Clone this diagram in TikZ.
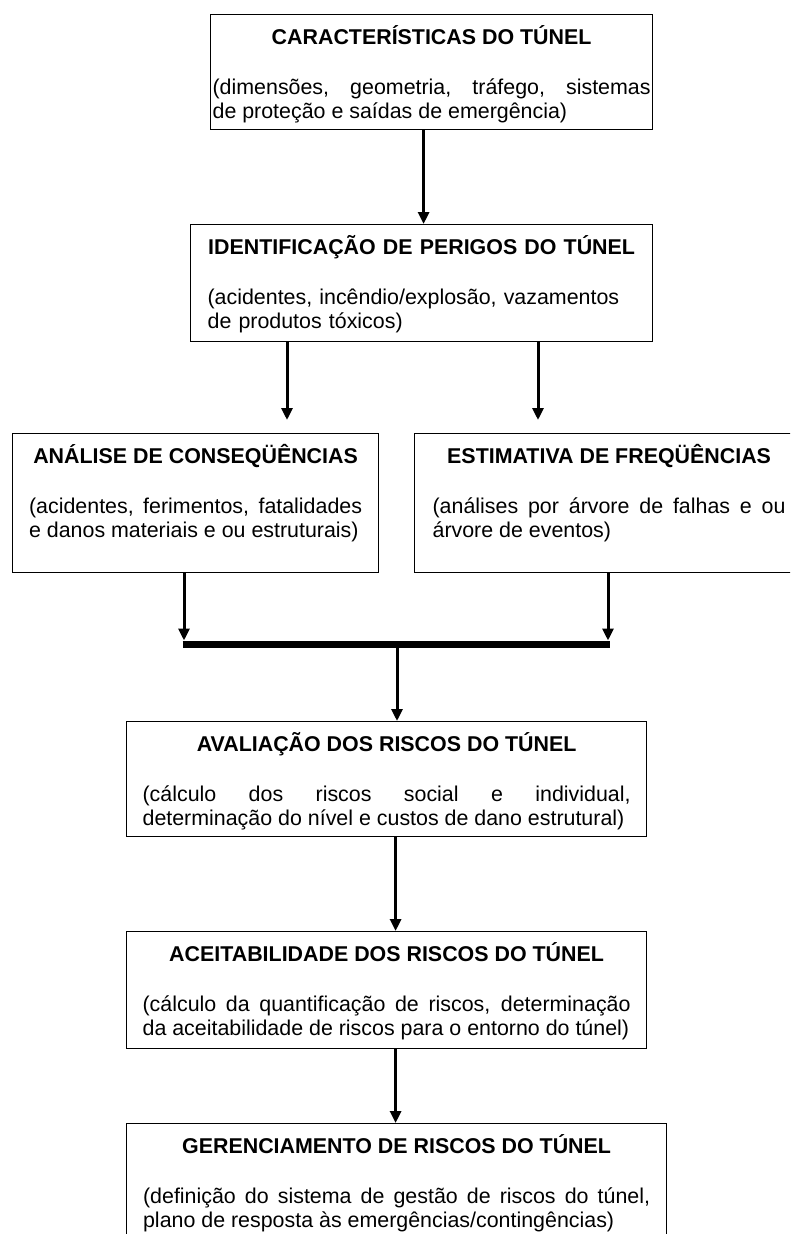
\documentclass[tikz,border=0pt]{standalone}
\usepackage{fontspec}
\setmainfont{Liberation Sans}
\usepackage{tikz}
\usetikzlibrary{arrows.meta}
\tolerance=10000
\hyphenpenalty=10000
\tikzset{every node/.append style={font=\fontsize{21.4}{23.5}\selectfont}}

\begin{document}
\begin{tikzpicture}[>={Triangle[width=11pt,length=12pt]}, x=1pt, y=-1pt,
    box/.style={draw, line width=1.2pt, anchor=north west, inner ysep=0pt, inner xsep=16pt, text height=29.5pt, align=justify},
    arr/.style={->, line width=3pt},
    bar/.style={line width=7pt}]
    \path[use as bounding box, clip] (0,0) rectangle (790,1234);
    % top of the chain
    \node[box, inner xsep=2pt, text width=438pt, text depth=85.5pt] (car) at (210,14) {{\centering\bfseries CARACTERÍSTICAS DO TÚNEL\par}\vskip27pt
        \rightskip=13pt (dimensões, geometria, tráfego, sistemas\linebreak de proteção e saídas de emergência)};
    \node[box, inner xsep=17pt, text width=428pt, text depth=87.5pt, align=left] (ide) at (190,224) {{\centering\bfseries IDENTIFICAÇÃO DE PERIGOS DO TÚNEL\par}\vskip27pt
        (acidentes, incêndio/explosão, vazamentos\newline de produtos tóxicos)};
    % the two branches
    \node[box, inner xsep=16.5pt, text width=333pt, text depth=109.5pt] (ana) at (12,433) {{\centering\bfseries ANÁLISE DE CONSEQÜÊNCIAS\par}\vskip27pt
        (acidentes, ferimentos, fatalidades\linebreak e danos materiais e ou estruturais)};
    \node[box, inner xsep=18pt, text width=353pt, text depth=109.5pt] (est) at (414,433) {{\centering\bfseries ESTIMATIVA DE FREQÜÊNCIAS\par}\vskip27pt
        (análises por árvore de falhas e ou\linebreak árvore de eventos)};
    % risks
    \node[box, text width=488pt, text depth=85.5pt] (ava) at (126,721) {{\centering\bfseries AVALIAÇÃO DOS RISCOS DO TÚNEL\par}\vskip27pt
        (cálculo dos riscos social e individual,\linebreak determinação do nível e custos de dano estrutural)};
    \node[box, text width=488pt, text depth=87.5pt] (ace) at (126,931) {{\centering\bfseries ACEITABILIDADE DOS RISCOS DO TÚNEL\par}\vskip27pt
        (cálculo da quantificação de riscos, determinação\linebreak da aceitabilidade de riscos para o entorno do túnel)};
    \node[box, inner xsep=16.5pt, text width=507pt, text depth=90pt] (ger) at (126,1123) {{\centering\bfseries GERENCIAMENTO DE RISCOS DO TÚNEL\par}\vskip27pt
        (definição do sistema de gestão de riscos do túnel,\linebreak plano de resposta às emergências/contingências)};
    % joining bar
    \coordinate (jl) at (184,644);
    \coordinate (jr) at (608,644);
    \coordinate (jm) at (397,644);
    % arrows
    \draw[arr] ([xshift=-8]car.south) -- ([xshift=2]ide.north);
    \draw[arr, shorten >=13pt] ([xshift=97]ide.south west) -- ([xshift=275]ana.north west);
    \draw[arr, shorten >=13pt] ([xshift=348]ide.south west) -- ([xshift=124]est.north west);
    \draw[arr, shorten >=3.5pt] (jl |- ana.south) -- (jl);
    \draw[arr, shorten >=3.5pt] (jr |- est.south) -- (jr);
    \draw[bar] ([xshift=-1.5]jl) -- ([xshift=1.5]jr);
    \draw[arr] (jm) -- (jm |- ava.north);
    \draw[arr] ([xshift=9]ava.south) -- ([xshift=9]ace.north);
    \draw[arr] ([xshift=9]ace.south) -- ([xshift=9]ace.south |- ger.north);
\end{tikzpicture}
\end{document}
